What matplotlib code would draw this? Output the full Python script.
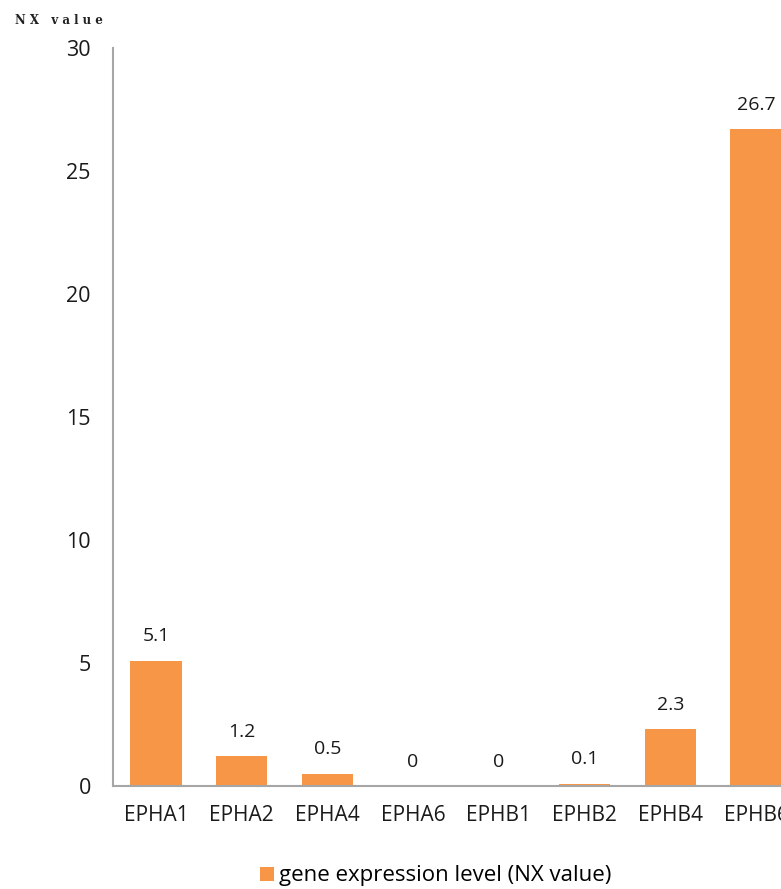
import numpy as np
import matplotlib.pyplot as plt

genes = ['EPHA1', 'EPHA2', 'EPHA4', 'EPHA6', 'EPHB1', 'EPHB2', 'EPHB4', 'EPHB6']
nx_values = [5.1, 1.2, 0.5, 0, 0, 0.1, 2.3, 26.7]
value_labels = ['5.1', '1.2', '0.5', '0', '0', '0.1', '2.3', '26.7']
yticks = [0, 5, 10, 15, 20, 25, 30]

W, H = 781, 889
fig = plt.figure(figsize=(W / 100, H / 100), dpi=100)
# axes runs past the right edge, like the cropped original
ax = fig.add_axes([113 / W, (H - 786) / H, 686 / W, 738 / H])

x = np.arange(len(genes))
bars = ax.bar(x, nx_values, width=0.6, color='#F79646', label='gene expression level (NX value)')

for rect, lab in zip(bars, value_labels):
    ax.annotate(lab, xy=(rect.get_x() + rect.get_width() / 2, rect.get_height()),
                xytext=(0, 14), textcoords='offset points',
                ha='center', va='baseline', fontsize=14, family='Open Sans', color='#1a1a1a')

ax.set_xlim(-0.5, 7.5)
ax.set_ylim(0, 30)
ax.set_yticks(yticks)
ax.set_xticks(x)
ax.set_xticklabels(genes, family='Open Sans', fontsize=15, color='#1a1a1a')
ax.tick_params(axis='both', length=0)
ax.tick_params(axis='y', pad=16, labelsize=15.5, labelcolor='#1a1a1a')
ax.tick_params(axis='x', pad=14)
for t in ax.get_yticklabels():
    t.set_family('Open Sans')

for s in ['top', 'right']:
    ax.spines[s].set_visible(False)
for s in ['left', 'bottom']:
    ax.spines[s].set_color('#A6A6A6')
    ax.spines[s].set_linewidth(1.5)

fig.text(15 / W, 1 - 20 / H, 'N X   v a l u e', family='DejaVu Serif', fontweight='bold',
         fontsize=8.5, va='center', ha='left', color='#222222')

fig.legend(handles=[bars], labels=['gene expression level (NX value)'], loc='center',
           bbox_to_anchor=(436 / W, 1 - 876 / H), frameon=False,
           prop={'family': 'Open Sans', 'size': 16}, handlelength=0.6, handleheight=0.6,
           handletextpad=0.25)

fig.savefig('out.png', dpi=100)
